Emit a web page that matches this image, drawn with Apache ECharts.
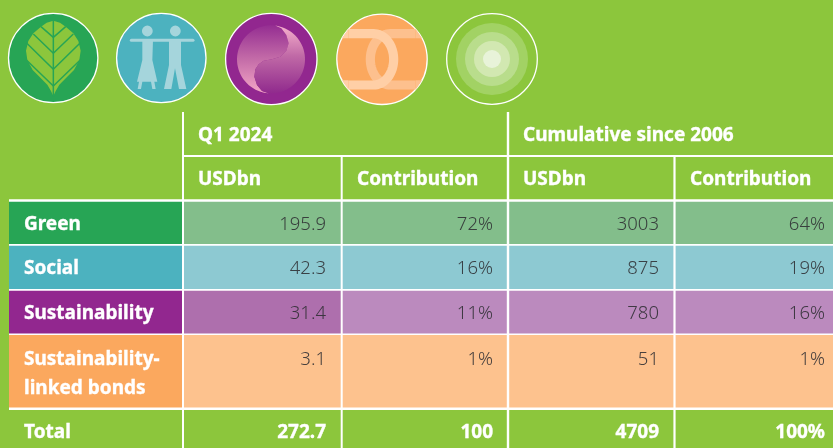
<!DOCTYPE html>
<html><head><meta charset="utf-8">
<style>html,body{margin:0;padding:0;background:#8CC63C}#c{width:833px;height:448px}</style>
<script src="https://cdn.jsdelivr.net/npm/echarts@6/dist/echarts.min.js"></script>
</head><body><div id="c"></div>
<script>
// ---- data ----
const categories = ['Green', 'Social', 'Sustainability', 'Sustainability-\nlinked bonds', 'Total'];
const periodHeaders = ['Q1 2024', 'Cumulative since 2006'];
const columnHeaders = ['USDbn', 'Contribution', 'USDbn', 'Contribution'];
const q1Usd = ['195.9', '42.3', '31.4', '3.1', '272.7'];
const q1Contribution = ['72%', '16%', '11%', '1%', '100'];
const cumulativeUsd = ['3003', '875', '780', '51', '4709'];
const cumulativeContribution = ['64%', '19%', '16%', '1%', '100%'];

// ---- layout & style ----
const BG = '#8CC63C';
const colEdges = [9, 183, 341.5, 508, 674.5, 833];
const rowEdges = [200.5, 245, 290, 334, 408.7, 448];
const valueRight = [326, 493, 659, 825];
const labelColors = ['#27A555', '#4CB2BF', '#92278F', '#FBA85E', null];
const cellColors = [
  ['#83BE8B', '#83BE8B', '#83BE8B', '#83BE8B'],
  ['#8DC9D2', '#8DC9D2', '#8DC9D2', '#8DC9D2'],
  ['#AE6FAD', '#BB8ABE', '#BB8ABE', '#BB8ABE'],
  ['#FDC28E', '#FDC28E', '#FDC28E', '#FDC28E'],
  [null, null, null, null]
];
const BOLD = 'bold 19px "Noto Sans"';
const LIGHT = '300 18.5px "Noto Sans"';
const BOLD_STYLE = { fill: '#fff', stroke: '#fff', lineWidth: 0.35, font: BOLD };
const valueCols = [q1Usd, q1Contribution, cumulativeUsd, cumulativeContribution];

// [x1,y1,x2,y2,thickness]
const rules = [
  [183, 112, 183, 448, 2], [341.7, 156, 341.7, 448, 2], [508, 112, 508, 448, 2.4], [674.5, 156, 674.5, 448, 2.2],
  [184, 156, 833, 156, 2], [9, 200.5, 833, 200.5, 2.4],
  [9, 244.9, 833, 244.9, 1.6], [9, 289.9, 833, 289.9, 1.6], [9, 334.2, 833, 334.2, 1.6], [9, 408.7, 833, 408.7, 2.6]
];

const headerTexts = [
  [periodHeaders[0], 198, 135.5], [periodHeaders[1], 523, 135.5],
  [columnHeaders[0], 198, 179.5], [columnHeaders[1], 357, 179.5], [columnHeaders[2], 523, 179.5], [columnHeaders[3], 690, 179.5]
];

const cellData = [];
categories.forEach((c, r) => {
  cellData.push({ value: [r, -1], name: c });
  valueCols.forEach((col, k) => cellData.push({ value: [r, k], name: col[r] }));
});

function renderCell(params, api) {
  const r = api.value(0), k = api.value(1);
  const item = cellData[params.dataIndex];
  const p0 = api.coord([colEdges[k + 1], rowEdges[r]]);
  const p1 = api.coord([colEdges[k + 2], rowEdges[r + 1]]);
  const fill = k < 0 ? labelColors[r] : cellColors[r][k];
  const children = [];
  if (fill) children.push({ type: 'rect', shape: { x: p0[0], y: p0[1], width: p1[0] - p0[0], height: p1[1] - p0[1] }, style: { fill } });
  const total = r === 4;
  const multi = r === 3;
  const mid = (p0[1] + p1[1]) / 2 + (total ? 4 : 1.5);
  if (k < 0) {
    const lines = item.name.split('\n');
    lines.forEach((t, i) => {
      const cy = multi ? api.coord([0, 359.5 + i * 29])[1] : mid;
      const px = api.coord([24, 0])[0];
      children.push({ type: 'text', style: Object.assign({ text: t, x: px, y: cy, align: 'left', verticalAlign: 'middle' }, BOLD_STYLE) });
    });
  } else {
    const px = api.coord([valueRight[k], 0])[0];
    const cy = multi ? api.coord([0, 359.5])[1] : mid;
    const look = total ? BOLD_STYLE : { fill: 'rgba(45,45,50,0.88)', font: LIGHT };
    children.push({ type: 'text', style: Object.assign({ text: item.name, x: px, y: cy, align: 'right', verticalAlign: 'middle' }, look) });
  }
  return { type: 'group', children };
}
function renderRule(params, api) {
  const a = api.coord([api.value(0), api.value(1)]), b = api.coord([api.value(2), api.value(3)]);
  const t = api.value(4);
  const vertical = a[0] === b[0];
  return { type: 'rect', shape: vertical ? { x: a[0] - t / 2, y: a[1], width: t, height: b[1] - a[1] } : { x: a[0], y: a[1] - t / 2, width: b[0] - a[0], height: t }, style: { fill: '#fff' } };
}
function renderHeader(params, api) {
  const h = headerTexts[params.dataIndex];
  const p = api.coord([h[1], h[2]]);
  return { type: 'text', style: Object.assign({ text: h[0], x: p[0], y: p[1], align: 'left', verticalAlign: 'middle' }, BOLD_STYLE) };
}

// ---- decorative icons ----
const Z = (ox, oy, pts) => pts.map(p => [ox + p[0] / 3, oy + p[1] / 3]);
function arc(cx, cy, r, a0, a1, n) { const o = []; for (let i = 0; i <= n; i++) { const a = (a0 + (a1 - a0) * i / n) * Math.PI / 180; o.push([cx + r * Math.cos(a), cy + r * Math.sin(a)]); } return o; }
function ell(cx, cy, rx, ry, a0, a1, n) { const o = []; for (let i = 0; i <= n; i++) { const a = (a0 + (a1 - a0) * i / n) * Math.PI / 180; o.push([cx + rx * Math.cos(a), cy + ry * Math.sin(a)]); } return o; }
const circ = (cx, cy, r, fill, stroke, w) => ({ type: 'circle', silent: true, shape: { cx, cy, r }, style: { fill: fill || 'none', stroke: stroke || null, lineWidth: w || 0 } });
const poly = (points, fill, smooth) => ({ type: 'polygon', silent: true, shape: { points, smooth: smooth || 0 }, style: { fill } });
const pline = (points, stroke, w) => ({ type: 'polyline', silent: true, shape: { points }, style: { stroke, lineWidth: w, fill: 'none', lineCap: 'butt', lineJoin: 'round' } });
const grad = (stops) => ({ type: 'linear', x: 0, y: 0, x2: 0, y2: 1, colorStops: stops.map((c) => ({ offset: c[0], color: c[1] })) });

const g = [];
// leaf
g.push(circ(53.2, 58, 44.7, '#27A555', '#fff', 1.3));
const lf = 5, lt = 10, LC = '#27A555';
const leafR = [[145, 32], [165, 38], [182, 50], [205, 70], [220, 93], [227, 122], [223, 150], [207, 180], [183, 204], [163, 224], [152, 243], [145, 258]];
const leafL = leafR.slice(1, -1).reverse().map(p => [290 - p[0], p[1]]);
g.push(poly(Z(lf, lt, leafR.concat(leafL)), BG));
[[82, 108, 50], [130, 85, 72], [178, 64, 98], [228, 62, 148]].forEach(v => {
  g.push(pline(Z(lf, lt, [[v[1], v[2]], [145, v[0]], [290 - v[1], v[2]]]), LC, 1.5));
});
g.push(pline(Z(lf, lt, [[145, 30], [145, 260]]), LC, 1.5));

// people
g.push(circ(161.3, 58, 44.7, '#4CB2BF', '#fff', 1.3));
const PC = '#A5D5DC', pf = 113, pt = 10;
g.push(circ(pf + 103 / 3, pt + 63 / 3, 5.4, PC), circ(pf + 187 / 3, pt + 63 / 3, 5.4, PC));
g.push({ type: 'line', silent: true, shape: { x1: pf + 55 / 3, y1: pt + 91 / 3, x2: pf + 240 / 3, y2: pt + 91 / 3 }, style: { stroke: PC, lineWidth: 3, lineCap: 'round' } });
g.push(poly(Z(pf, pt, [[88, 91], [120, 91], [118, 150], [133, 215], [124, 215], [128, 237], [118, 237], [114, 215], [88, 215], [84, 237], [74, 237], [78, 215], [72, 215], [88, 150]]), PC));
g.push(poly(Z(pf, pt, [[168, 91], [204, 91], [204, 165], [220, 237], [198, 237], [186, 175], [175, 237], [153, 237], [168, 165]]), PC));

// yin-yang
g.push(circ(271.3, 59, 45.7, '#92278F', '#fff', 1.3));
const yf = 222, yt = 10, c0 = [147, 148], yr = 102;
const sCurve = [[120, 243], [105, 225], [97, 200], [100, 178], [110, 163], [125, 152], [150, 148], [175, 140], [193, 122], [200, 100], [193, 75], [178, 55]];
const lOuter = arc(c0[0], c0[1], yr, 94, 277, 40);
const rOuter = arc(c0[0], c0[1], yr, -83, 94, 40);
g.push(poly(Z(yf, yt, lOuter.concat(sCurve.slice().reverse())), grad([[0, '#952E92'], [0.5, '#C46CA8'], [1, '#F4A7C6']])));
g.push(poly(Z(yf, yt, rOuter.concat(sCurve)), grad([[0, '#F6B0CC'], [0.45, '#C069A6'], [1, '#902A8D']])));

// chain
g.push(circ(382, 59.3, 45.2, '#FBA85E', '#fff', 1.3));
const cf = 332, ct = 10, LA = '#FFCFA6', LB = '#FDC08E';
const rightLink = [[251, 71]].concat(ell(175, 148, 60, 77, -90, -270, 40), [[251, 225]]);
const leftLink = [[49, 71]].concat(ell(125, 148, 60, 77, -90, 90, 40), [[49, 225]]);
g.push(pline(Z(cf, ct, rightLink), LB, 9.2));
g.push(poly(Z(cf, ct, [[251, 57], [251, 85], [270, 85]]), LB), poly(Z(cf, ct, [[251, 211], [251, 239], [270, 211]]), LB));
g.push(pline(Z(cf, ct, leftLink), LA, 9.2));
g.push(poly(Z(cf, ct, [[49, 57], [49, 85], [30, 85]]), LA), poly(Z(cf, ct, [[49, 211], [49, 239], [30, 211]]), LA));

// target rings
g.push(circ(492, 59, 45.3, 'none', '#fff', 1.3));
g.push(circ(492, 59, 36, '#A2D264'), circ(492, 59, 27, '#B9DD8C'), circ(492, 59, 18, '#D2E8B1'), circ(492, 59, 9, '#E8F3D9'));

const chart = echarts.init(document.getElementById('c'), null, { renderer: 'canvas' });
chart.setOption({
  animation: false,
  backgroundColor: BG,
  grid: { left: 0, right: 0, top: 0, bottom: 0 },
  xAxis: { type: 'value', min: 0, max: 833, show: false },
  yAxis: { type: 'value', min: 0, max: 448, inverse: true, show: false },
  tooltip: { show: false },
  graphic: g,
  series: [
    { type: 'custom', name: 'cells', coordinateSystem: 'cartesian2d', renderItem: renderCell, data: cellData, silent: true, clip: false, z: 2 },
    { type: 'custom', name: 'rules', coordinateSystem: 'cartesian2d', renderItem: renderRule, data: rules, silent: true, clip: false, z: 3, encode: { x: [0, 2], y: [1, 3] } },
    { type: 'custom', name: 'headers', coordinateSystem: 'cartesian2d', renderItem: renderHeader, data: headerTexts.map(h => [h[1], h[2]]), silent: true, clip: false, z: 4 }
  ]
});
</script></body></html>
